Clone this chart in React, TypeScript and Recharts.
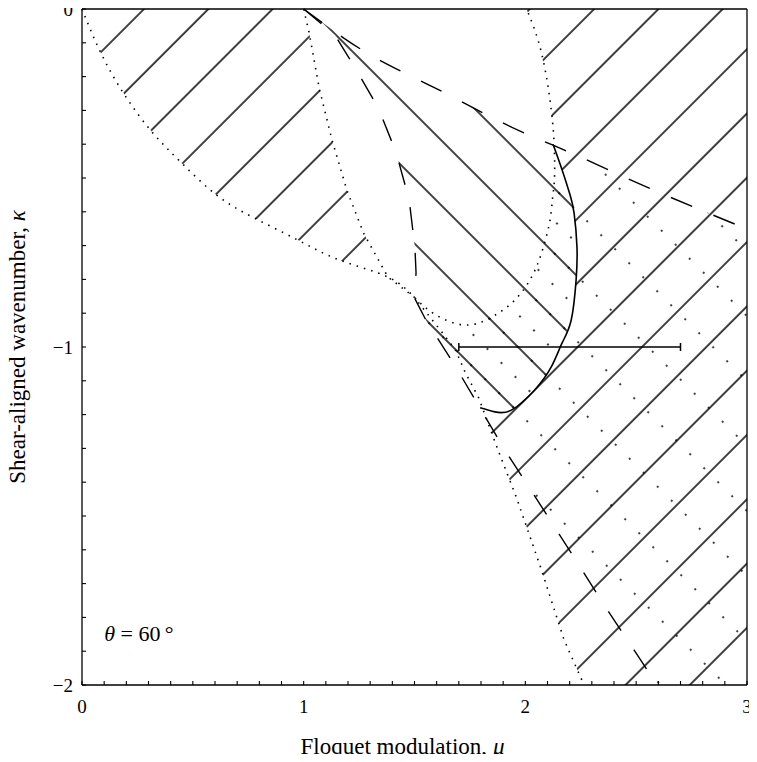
import React from "react";
import { ScatterChart, Scatter, XAxis, YAxis, ErrorBar, ReferenceDot, Label } from "recharts";

type Pt = { mu: number; kappa: number };
const pts = (rows: number[][]): Pt[] => rows.map(([mu, kappa]) => ({ mu, kappa }));

// dotted boundary from the origin, dipping below the cusp and closing at mu = 2
const CURVE_A = pts([
  [0, 0], [0.085, -0.13], [0.192, -0.254], [0.316, -0.364], [0.45, -0.456], [0.606, -0.55],
  [0.776, -0.618], [0.972, -0.683], [1.163, -0.743], [1.38, -0.793], [1.498, -0.852],
  [1.596, -0.905], [1.73, -0.935], [1.85, -0.911], [1.953, -0.861], [2.028, -0.793],
  [2.073, -0.722], [2.109, -0.633], [2.122, -0.565], [2.131, -0.506], [2.131, -0.417],
  [2.117, -0.299], [2.073, -0.13], [2.006, 0],
]);

// dotted boundary from mu = 1 down to the bottom edge
const CURVE_B = pts([
  [1, 0], [1.025, -0.071], [1.07, -0.234], [1.128, -0.388], [1.195, -0.536], [1.27, -0.663],
  [1.38, -0.793], [1.498, -0.852], [1.627, -0.959], [1.685, -1.009], [1.73, -1.077],
  [1.788, -1.148], [1.877, -1.305], [1.961, -1.447], [2.073, -1.66], [2.175, -1.867], [2.265, -2],
]);

// long-dashed branches out of mu = 1
const CURVE_C = pts([
  [1, 0], [1.181, -0.086], [1.342, -0.151], [1.52, -0.21], [1.698, -0.269], [1.917, -0.343],
  [2.125, -0.403], [2.309, -0.456], [2.608, -0.544], [3, -0.651],
]);
const CURVE_D = pts([
  [1, 0], [1.141, -0.077], [1.23, -0.172], [1.337, -0.293], [1.418, -0.426], [1.476, -0.565],
  [1.502, -0.707], [1.507, -0.781], [1.498, -0.852], [1.551, -0.92], [1.672, -1.044],
  [1.783, -1.166], [1.899, -1.296], [2.019, -1.417], [2.14, -1.541], [2.256, -1.66],
  [2.376, -1.784], [2.496, -1.902], [2.594, -2],
]);

// solid loop
const CURVE_S = pts([
  [2.125, -0.4], [2.166, -0.476], [2.202, -0.55], [2.22, -0.604], [2.233, -0.704], [2.229, -0.802],
  [2.207, -0.92], [2.166, -0.988], [2.117, -1.059], [2.042, -1.127], [1.939, -1.186],
  [1.863, -1.192], [1.796, -1.18],
]);

const RANGE_BAR = [{ mu: 2.2, kappa: -1, spread: 0.5 }];
const THETA_AT = { mu: 0.1, kappa: -1.87 };

const X_LABELS = [0, 1, 2, 3];
const Y_LABELS = [0, -1, -2];
const X_TICKS = Array.from({ length: 31 }, (_, i) => i / 10);
const Y_TICKS = Array.from({ length: 21 }, (_, i) => -i / 10);

// shaded regions, assembled from the curves above
const CORNER_NE = { mu: 3, kappa: 0 };
const CORNER_SE = { mu: 3, kappa: -2 };
const REGION_NW = [...CURVE_B.slice(0, 8), ...CURVE_A.slice(0, 10).reverse()];
const REGION_E = [CORNER_NE, CORNER_SE, ...CURVE_B.slice(11).reverse(), ...CURVE_S.slice().reverse(), ...CURVE_A.slice(21)];
const REGION_WEDGE = [...CURVE_C.slice(0, 7), ...CURVE_S, ...CURVE_D.slice(0, 12).reverse()];
const REGION_DOTS = [...CURVE_C.slice(6), CORNER_SE, ...CURVE_D.slice(8).reverse(), ...CURVE_A.slice(11, 21)];
const REGION_LOOP = [...CURVE_S, ...CURVE_D.slice(8, 12).reverse(), ...CURVE_A.slice(11, 21)];

const INK = "#000";
const SERIF = '"Liberation Serif", "Times New Roman", serif';
const W = 741;
const H = 746;

const noDot = () => <g />;

function BottomTick({ x, y, payload }: any) {
  const v = payload.value;
  return (
    <g>
      <line x1={x} y1={y} x2={x} y2={y - 4} stroke={INK} strokeWidth={1.1} />
      {X_LABELS.includes(v) && (
        <text x={x} y={y + 28} textAnchor="middle" fontSize={19} fontFamily={SERIF} fill={INK}>
          {v}
        </text>
      )}
    </g>
  );
}

function TopTick({ x, y }: any) {
  return <line x1={x} y1={y} x2={x} y2={y + 4} stroke={INK} strokeWidth={1.1} />;
}

function LeftTick({ x, y, payload }: any) {
  const v = payload.value;
  const shown = Y_LABELS.includes(v);
  return (
    <g>
      <line x1={x} y1={y} x2={x + 4} y2={y} stroke={INK} strokeWidth={1.1} />
      {shown && (
        <text x={x - 9} y={y + 7} textAnchor="end" fontSize={19} fontFamily={SERIF} fill={INK}>
          {v < 0 ? `\u2212${Math.abs(v)}` : "0"}
        </text>
      )}
    </g>
  );
}

function RightTick({ x, y }: any) {
  return <line x1={x} y1={y} x2={x - 4} y2={y} stroke={INK} strokeWidth={1.1} />;
}

function XTitle({ viewBox }: any) {
  const { x, y, width } = viewBox;
  return (
    <text x={x + width / 2 - 12} y={y + 69} textAnchor="middle" fontSize={23} fontFamily={SERIF} fill={INK}>
      Floquet modulation, <tspan fontStyle="italic">μ</tspan>
    </text>
  );
}

function YTitle({ viewBox }: any) {
  const { y, height } = viewBox;
  const cx = 17;
  const cy = y + height / 2;
  return (
    <text x={cx} y={cy} transform={`rotate(-90, ${cx}, ${cy})`} textAnchor="middle" fontSize={23} fontFamily={SERIF} fill={INK}>
      Shear-aligned wavenumber, <tspan fontStyle="italic">κ</tspan>
    </text>
  );
}

function ThetaNote({ viewBox }: any) {
  return (
    <text x={viewBox.x} y={viewBox.y} fontSize={22} fontFamily={SERIF} fill={INK}>
      <tspan fontStyle="italic">θ</tspan> = 60{"\u2009"}°
    </text>
  );
}

const axisLine = { stroke: INK, strokeWidth: 1.3 };
const dotted = { stroke: INK, strokeWidth: 1.6, strokeDasharray: "1.5 6", fill: "none" };
const dashed = { stroke: INK, strokeWidth: 1.4, strokeDasharray: "23 23", fill: "none" };

export default function App() {
  return (
    <div style={{ position: "relative", width: W, height: H, background: "#fff" }}>
      <style>{".recharts-surface { overflow: visible; }"}</style>
      <svg width={0} height={0} style={{ position: "absolute" }}>
        <defs>
          <pattern id="hatch-fwd" patternUnits="userSpaceOnUse" width={45.47} height={10} patternTransform="rotate(45)">
            <line x1={5.96} y1={-1} x2={5.96} y2={11} stroke={INK} strokeWidth={1.5} />
          </pattern>
          <pattern id="hatch-back" patternUnits="userSpaceOnUse" width={45.96} height={10} patternTransform="rotate(-45)">
            <line x1={29} y1={-1} x2={29} y2={11} stroke={INK} strokeWidth={1.5} />
          </pattern>
          <pattern id="stipple" patternUnits="userSpaceOnUse" width={45.96} height={19.8} patternTransform="rotate(-45)">
            <circle cx={29} cy={6} r={1} fill={INK} />
          </pattern>
          <pattern id="stipple-mid" patternUnits="userSpaceOnUse" width={45.96} height={19.8} patternTransform="rotate(-45)">
            <circle cx={6} cy={6} r={1} fill={INK} />
          </pattern>
        </defs>
      </svg>
      <ScatterChart width={W} height={H} margin={{ top: 0, right: 0, bottom: 0, left: 0 }}>
        <XAxis
          type="number"
          dataKey="mu"
          domain={[0, 3]}
          ticks={X_TICKS}
          interval={0}
          height={69}
          tickSize={0}
          tickMargin={0}
          tickLine={false}
          axisLine={axisLine}
          tick={<BottomTick />}
          label={<Label content={<XTitle />} />}
        />
        <XAxis
          xAxisId="top"
          orientation="top"
          type="number"
          domain={[0, 3]}
          ticks={X_TICKS}
          interval={0}
          height={1}
          tickSize={0}
          tickMargin={0}
          tickLine={false}
          axisLine={axisLine}
          tick={<TopTick />}
        />
        <YAxis
          type="number"
          dataKey="kappa"
          domain={[-2, 0]}
          ticks={Y_TICKS}
          interval={0}
          width={74}
          tickSize={0}
          tickMargin={0}
          tickLine={false}
          axisLine={axisLine}
          tick={<LeftTick />}
          label={<Label content={<YTitle />} />}
        />
        <YAxis
          yAxisId="right"
          orientation="right"
          type="number"
          domain={[-2, 0]}
          ticks={Y_TICKS}
          interval={0}
          width={2}
          tickSize={0}
          tickMargin={0}
          tickLine={false}
          axisLine={axisLine}
          tick={<RightTick />}
        />

        <Scatter data={REGION_DOTS} line={{ fill: "url(#stipple)", stroke: "none" }} shape={noDot} isAnimationActive={false} />
        <Scatter data={REGION_LOOP} line={{ fill: "url(#stipple-mid)", stroke: "none" }} shape={noDot} isAnimationActive={false} />
        <Scatter data={REGION_NW} line={{ fill: "url(#hatch-fwd)", stroke: "none" }} shape={noDot} isAnimationActive={false} />
        <Scatter data={REGION_E} line={{ fill: "url(#hatch-fwd)", stroke: "none" }} shape={noDot} isAnimationActive={false} />
        <Scatter data={REGION_WEDGE} line={{ fill: "url(#hatch-back)", stroke: "none" }} shape={noDot} isAnimationActive={false} />

        <Scatter data={CURVE_A} line={dotted} lineJointType="natural" shape={noDot} isAnimationActive={false} />
        <Scatter data={CURVE_B} line={dotted} shape={noDot} isAnimationActive={false} />
        <Scatter data={CURVE_C} line={dashed} lineJointType="natural" shape={noDot} isAnimationActive={false} />
        <Scatter data={CURVE_D} line={dashed} shape={noDot} isAnimationActive={false} />
        <Scatter data={CURVE_S} line={{ stroke: INK, strokeWidth: 1.6, fill: "none" }} lineJointType="natural" shape={noDot} isAnimationActive={false} />

        <Scatter data={RANGE_BAR} shape={noDot} isAnimationActive={false}>
          <ErrorBar dataKey="spread" direction="x" width={4} stroke={INK} strokeWidth={1.5} isAnimationActive={false} />
        </Scatter>

        <ReferenceDot x={THETA_AT.mu} y={THETA_AT.kappa} r={0} stroke="none" label={<Label content={<ThetaNote />} />} />
      </ScatterChart>
    </div>
  );
}
